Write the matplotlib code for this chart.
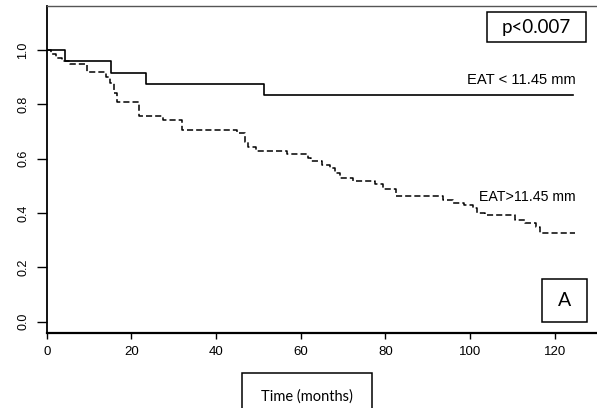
import matplotlib
matplotlib.use('Agg')
import matplotlib.pyplot as plt
from matplotlib.patches import Rectangle

plt.rcParams['font.family'] = ['Liberation Sans', 'DejaVu Sans']

# Kaplan-Meier steps (time in months, survival after the drop)
low_t = [0, 4.3, 15.3, 23.4, 51.3]
low_s = [1.0, 0.958, 0.917, 0.875, 0.833]
low_end = 124.3

high_t = [0, 1.0, 2.3, 3.5, 5.5, 9.6, 14.0, 15.0, 16.0, 16.5, 21.8, 27.5, 31.9,
          44.9, 46.8, 47.5, 49.5, 56.7, 61.6, 62.5, 65.0, 66.9, 68.0, 69.2,
          72.4, 77.5, 79.5, 82.6, 93.7, 96.0, 98.5, 100.7, 101.5, 103.5,
          110.6, 113.0, 115.5, 116.5]
high_s = [1.0, 0.985, 0.97, 0.96, 0.947, 0.92, 0.90, 0.88, 0.84, 0.81, 0.757,
          0.742, 0.706, 0.693, 0.66, 0.644, 0.629, 0.617, 0.601, 0.591, 0.577,
          0.565, 0.546, 0.528, 0.519, 0.505, 0.488, 0.463, 0.448, 0.436, 0.43,
          0.417, 0.399, 0.393, 0.374, 0.362, 0.35, 0.328]
high_end = 124.7

xticks = [0, 20, 40, 60, 80, 100, 120]
yticks = [0.0, 0.2, 0.4, 0.6, 0.8, 1.0]

W, H = 597, 408
fig = plt.figure(figsize=(W / 100, H / 100), dpi=100)
# axes box in pixels: left 46.7, right ~597, top 5.7, bottom 333.3
ax = fig.add_axes([46.7 / W, (H - 333.3) / H, (597.2 - 46.7) / W, (333.3 - 5.7) / H])

ax.step(low_t + [low_end], low_s + [low_s[-1]], where='post', color='black', lw=1.2)
ax.step(high_t + [high_end], high_s + [high_s[-1]], where='post', color='black',
        lw=1.1, dashes=(4.0, 2.0))

ax.set_xlim(0, 130)
ax.set_ylim(-0.0427, 1.163)
ax.set_xticks(xticks)
ax.set_yticks(yticks)
ax.set_yticklabels(['%.1f' % v for v in yticks], rotation=90, va='center')

ax.tick_params(axis='x', length=4.3, width=1.0, pad=4.5, labelsize=9.5)
ax.tick_params(axis='y', length=7.2, width=1.0, pad=5.5, labelsize=9)

ax.spines['right'].set_visible(False)
ax.spines['left'].set_linewidth(1.3)
ax.spines['bottom'].set_linewidth(1.6)
ax.spines['top'].set_linewidth(1.0)
ax.spines['top'].set_color('#555555')

ax.text(125, 0.889, 'EAT < 11.45 mm', ha='right', va='center', fontsize=10.6)
ax.text(125, 0.459, 'EAT>11.45 mm', ha='right', va='center', fontsize=10.2)


def box(x0, y0, x1, y1, label, size):
    # pixel coords measured from top-left
    fig.patches.append(Rectangle((x0 / W, 1 - y1 / H), (x1 - x0) / W, (y1 - y0) / H,
                                 transform=fig.transFigure, fill=False,
                                 edgecolor='black', lw=1.1))
    fig.text((x0 + x1) / 2 / W, 1 - (y0 + y1) / 2 / H, label, ha='center', va='center',
             fontsize=size, family='Lato')


box(486.7, 12, 585.7, 42.3, 'p<0.007', 13.5)
box(542.3, 279, 586.7, 322.3, 'A', 14)
box(242.3, 373.3, 372.3, 420, 'Time (months)', 10.5)

fig.savefig('out.png', dpi=100)
